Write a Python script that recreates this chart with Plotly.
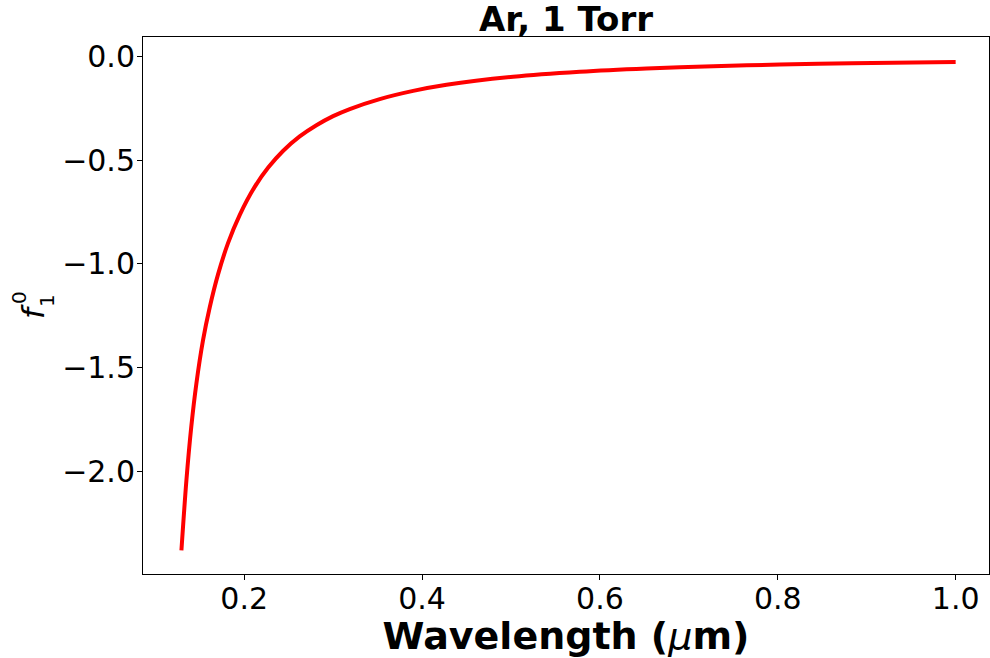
import plotly.graph_objects as go

wavelength_um = [0.1294, 0.135, 0.1406, 0.1462, 0.1537, 0.1612, 0.1705, 0.1818, 0.1949,
                 0.2118, 0.2270, 0.2436, 0.2624, 0.2812, 0.3000, 0.3187, 0.3524, 0.3900,
                 0.4275, 0.5024, 0.5774, 0.6524, 0.7273, 0.8023, 0.883, 1.0]
f10_values = [-2.38, -2.043, -1.78, -1.577, -1.367, -1.21, -1.052, -0.90, -0.765,
              -0.629, -0.536, -0.456, -0.386, -0.332, -0.288, -0.254, -0.206, -0.1665,
              -0.137, -0.0984, -0.0745, -0.0587, -0.0477, -0.0398, -0.0335, -0.0269]

title_text = "Ar, 1 Torr"

FONT = "DejaVu Sans"

fig = go.Figure()
fig.add_trace(go.Scatter(x=wavelength_um, y=f10_values, mode="lines",
                         line=dict(color="#ff0000", width=4, shape="spline", smoothing=0.8),
                         showlegend=False))

axis_common = dict(showline=True, linecolor="black", linewidth=1, mirror=True,
                   ticks="outside", ticklen=5, tickwidth=1, tickcolor="black",
                   showgrid=False, zeroline=False,
                   tickfont=dict(family=FONT, size=30, color="black"))

fig.update_layout(
    width=990, height=658,
    margin=dict(l=143, r=1, t=37, b=84),
    paper_bgcolor="white", plot_bgcolor="white",
    title=dict(text="<b>" + title_text + "</b>", x=(143 + 989) / 2 / 990, xanchor="center",
               y=1 - 19.5 / 658, yanchor="middle",
               font=dict(family=FONT, size=34, color="black")),
    xaxis=dict(range=[0.0862, 1.0375], tick0=0.2, dtick=0.2, tickformat=".1f",
               ticklabelstandoff=-7,
               title=dict(text="<b>Wavelength (</b><i>\u03bc</i><b>m)</b>", standoff=0,
                          font=dict(family=FONT, size=38, color="black")),
               **axis_common),
    yaxis=dict(range=[-2.494, 0.093], tick0=0, dtick=0.5, tickformat=".1f",
               ticklabelstandoff=-4,
               **axis_common),
)

# y-axis label: italic f with subscript 1 and superscript 0 (rotated)
def px_x(p):
    return (p - 143) / (989 - 143)

def px_y(p):
    return (574 - p) / (574 - 37)

fig.add_annotation(text="<i>f</i>", xref="paper", yref="paper", x=px_x(33), y=px_y(312),
                   showarrow=False, textangle=-90, xanchor="center", yanchor="middle",
                   font=dict(family=FONT, size=31, color="black"))
fig.add_annotation(text="0", xref="paper", yref="paper", x=px_x(19), y=px_y(298),
                   showarrow=False, textangle=-90, xanchor="center", yanchor="middle",
                   font=dict(family=FONT, size=20, color="black"))
fig.add_annotation(text="1", xref="paper", yref="paper", x=px_x(47), y=px_y(301),
                   showarrow=False, textangle=-90, xanchor="center", yanchor="middle",
                   font=dict(family=FONT, size=20, color="black"))

fig.write_html("out.html")
